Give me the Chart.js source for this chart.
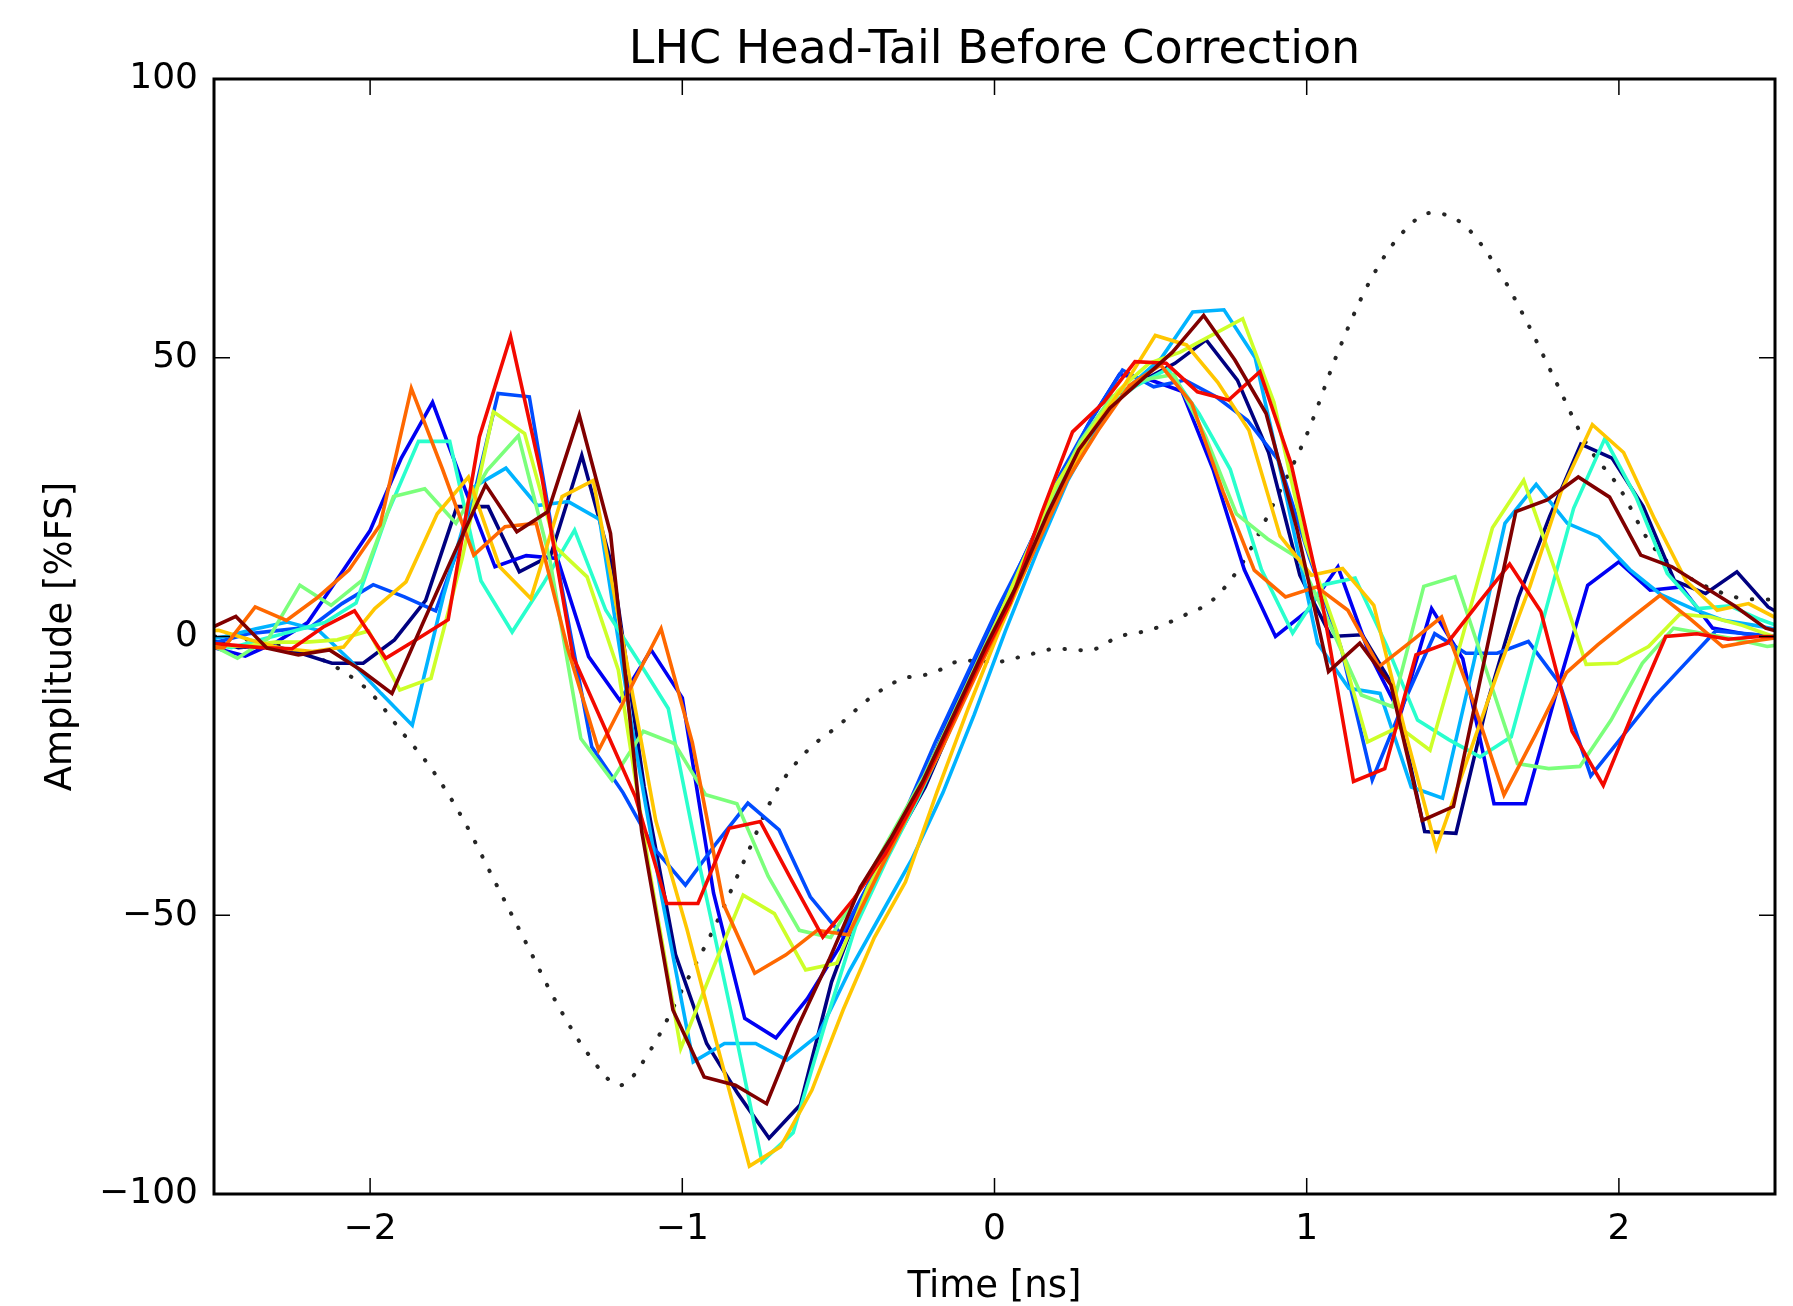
<!DOCTYPE html>
<html>
<head>
<meta charset="utf-8">
<title>LHC Head-Tail Before Correction</title>
<script src="https://cdn.jsdelivr.net/npm/chart.js@4.4.1/dist/chart.umd.min.js"></script>
<style>
  html, body { margin: 0; padding: 0; background: #fff; }
  canvas { display: block; }
</style>
</head>
<body>
<canvas id="headTail" width="1793" height="1306"></canvas>
<script>
// sample grid in ns, 0.1 ns spacing; every trace sits on it with its own trigger shift
const TIME = [-2.6, -2.5, -2.4, -2.3, -2.2, -2.1, -2.0, -1.9, -1.8, -1.7,
              -1.6, -1.5, -1.4, -1.3, -1.2, -1.1, -1.0, -0.9, -0.8, -0.7,
              -0.6, -0.5, -0.4, -0.3, -0.2, -0.1, 0.0, 0.1, 0.2, 0.3,
              0.4, 0.5, 0.6, 0.7, 0.8, 0.9, 1.0, 1.1, 1.2, 1.3,
              1.4, 1.5, 1.6, 1.7, 1.8, 1.9, 2.0, 2.1, 2.2, 2.3,
              2.4, 2.5];

// per-turn time shift (ns)
const SHIFT = [0.078, 0.0, 0.01, 0.035, 0.055, 0.075, -0.005, 0.015, 0.032, 0.05, 0.07];

// delta signal per turn, %FS
const turn1 = [-0.5, -2, -1.5, -3, -4.8, -4.8, -0.6, 6.5, 23.3, 23.3, 11.6, 14.5, 32.5, 12, -27, -57, -73, -82, -90, -84,
               -62, -47, -37, -27, -14, -2, 10, 23.5, 35, 43, 46, 49, 53.2, 46, 33, 11, 0, 0.3, -9, -35,
               -35.3, -12, 7, 21.5, 34.5, 32, 23.3, 10, 7.7, 11.6, 5.3, 2];
const turn2 = [-1, -2, -3.5, -1, 2.5, 10.7, 19, 32, 42, 27, 12.5, 14.5, 14, -3.6, -11.5, -2.4, -11, -46, -68.5, -72,
               -65, -56, -44, -34, -22, -9, 3, 15, 27, 38, 47, 46, 44, 30, 12, 0, 4.5, 12.5, -3, -14,
               5, -4, -30, -30, -10, 9.2, 13.4, 8.3, 8.9, 1.5, 0.5, 0];
const turn3 = [-1, -1, 0.5, 1.1, 1.7, 5.9, 9.3, 7.1, 4.6, 20, 43.6, 43, 10, -19.8, -28, -38, -44.6, -37, -29.9, -34.7,
               -46.7, -53.5, -43, -32, -19, -7, 5, 16, 29, 39, 47.8, 44.8, 46, 43, 38.8, 31.6, 14, -2, -25.7, -12,
               0.5, -3, -3, -0.9, -8.4, -25, -18, -11, -5, 1, 0.5, 0];
const turn4 = [-1, 0, 1.4, 2.6, 1.1, -4.2, -10.2, -15.9, 7.3, 26.9, 30.2, 23.5, 24.2, 21, -15, -47, -76.3, -73, -73, -76,
               -71.5, -60, -50, -40, -28, -14, 1, 15, 28, 38, 45, 50, 58.2, 58.6, 50, 25, -1.2, -9.3, -10.2, -27,
               -29, -4.7, 20.3, 27.3, 20.3, 17.9, 12, 7.5, 5, 2.9, 2, 1];
const turn5 = [-1, -2, -0.5, 1, 2.5, 6, 22, 35, 35, 10, 0.8, 9.5, 19.1, 4.7, -4, -12.9, -41, -67, -94.2, -89,
               -70, -52, -40, -29, -17, -4, 8, 21, 32, 41, 45, 48, 40, 30, 12, 0.6, 9.3, 10.5, -1.5, -15,
               -18.5, -21.6, -18, 2.5, 23, 35.5, 25, 11.3, 5, 5.5, 3, 1];
const turn6 = [-1, -3.9, -0.3, 9.2, 5.6, 10.1, 25.1, 26.5, 20.3, 29.8, 36, 14, -18.3, -25.8, -17, -19.2, -28.4, -30, -43, -52.7,
               -54, -45, -35, -25, -13, -1, 11, 24, 35, 43, 46, 47, 36, 22, 17.5, 14, 2, -10.5, -12.6, 9,
               10.7, -6, -22.8, -23.7, -23.3, -15, -4.8, 1.5, 0.5, -0.5, -1.8, -1];
const turn7 = [-1, -1.5, -1.8, -1, -1, -0.6, 1, -9.6, -7.5, 14, 40.3, 36.4, 16, 10.7, -6, -42, -73.9, -60, -46.4, -49.7,
               -59.8, -58.6, -45, -35, -24, -12, 1, 14, 27, 36, 44, 49, 51, 54, 57, 42, 17, 1, -18.9, -16.2,
               -20.4, -0.8, 19.5, 28, 12, -5, -4.8, -1.8, 4, 3.5, 2, 0];
const turn8 = [1, 1.1, -0.6, -2.1, -2.7, -1.9, 5, 9.8, 22, 28.6, 12.5, 6.8, 25.1, 28, -2.5, -33, -52.5, -74, -95, -91.5,
               -81.4, -67, -54, -44, -28, -13, 1, 14, 27, 37, 45, 54, 52.3, 45.6, 37, 18, 11, 12.2, 5.6, -17,
               -38, -22, -6, 9, 26, 38, 33, 21, 10, 4.7, 5.9, 3];
const turn9 = [-2, -2, 5.3, 2.9, 7, 11.9, 20, 44.5, 30, 14.6, 19.7, 20.3, -2, -20.4, -9.5, 1.4, -19, -48, -60.4, -57.1,
               -52.7, -53.5, -42, -31, -20, -8, 4, 16, 28, 37, 45, 48.7, 41.8, 26, 11.9, 7.1, 8.9, 4.7, -5.4, -1,
               3.5, -11.5, -28.4, -17.7, -6.5, -1.5, 3, 7.4, 3, -1.8, -0.8, 0];
const turn10 = [-1, -1.5, -2, -2.2, 1.7, 4.6, -3.9, -0.5, 3, 35.8, 53.8, 28.6, -3.6, -16.2, -28.8, -47.9, -47.9, -34.4, -33.2, -43.7,
                -53.9, -47, -39, -29, -17, -5, 6, 22, 36.7, 42, 49.3, 49, 43.9, 42.4, 47.5, 31, 6, -26, -23.7, -3.3,
                -1.2, 6, 13, 4.5, -17, -26.7, -13, 0, 0.5, -0.5, 0, 0];
const turn11 = [1, 3.6, -2.1, -3.3, -2.4, -6, -10.2, 2.5, 15, 27.2, 18.8, 22.4, 39.7, 18.5, -35, -67, -79, -80.5, -83.8, -70,
                -58, -45, -36, -26, -14, -2, 9, 22, 33.5, 41, 46, 51, 57.6, 49.6, 40, 19, -6.3, -1.2, -8.7, -33,
                -30.5, -4, 22.4, 24.5, 28.6, 25, 14.6, 12.5, 9, 5.5, 1.5, 0];

// sum signal (dotted)
const sumSignal = [0, 0, -0.5, -1.5, -3, -5.8, -10, -17, -24, -33, -44, -55, -66, -75, -80.5, -74, -63.3, -52.5, -40, -27.8,
                   -20.5, -16, -11.1, -7.7, -6.6, -4.3, -4.6, -3.4, -2.2, -2.5, 0, 1.2, 3.6, 6.6, 13.7, 24.5, 36.2, 51, 63.5, 72,
                   76, 74, 67, 57, 45.5, 34.2, 26.8, 16.8, 11.5, 8.5, 6.8, 6.6];

const X_TICKS = [-2, -1, 0, 1, 2];
const Y_TICKS = [-100, -50, 0, 50, 100];

// jet colormap sampled at 11 steps
const JET = ['#000080', '#0000f3', '#004cff', '#00b3ff', '#29ffcd', '#7bff7b',
             '#cdff29', '#ffc600', '#ff6800', '#f30900', '#800000'];

const TITLE = 'LHC Head-Tail Before Correction';

const turns = [turn1, turn2, turn3, turn4, turn5, turn6, turn7, turn8, turn9, turn10, turn11];

const datasets = turns.map((vals, i) => ({
  data: vals.map((v, k) => ({ x: TIME[k] + SHIFT[i], y: v })),
  borderColor: JET[i],
  borderWidth: 3.6,
  pointRadius: 0,
  tension: 0,
  order: turns.length - i
}));

datasets.push({
  data: sumSignal.map((v, k) => ({ x: TIME[k], y: v })),
  borderColor: '#262626',
  borderWidth: 4,
  borderDash: [0.5, 15.5],
  borderCapStyle: 'round',
  pointRadius: 0,
  cubicInterpolationMode: 'monotone',
  order: 99
});

function fmtTick(v) {
  return v < 0 ? '\u2212' + Math.abs(v) : String(v);
}

// box around the axes, inward tick marks on all four sides, title centred over the axes
const framePlugin = {
  id: 'frame',
  afterDatasetsDraw(chart) {
    const { ctx, chartArea: a, scales } = chart;
    const len = 16;
    ctx.save();
    ctx.strokeStyle = '#000';
    ctx.lineWidth = 1.5;
    ctx.beginPath();
    X_TICKS.forEach(t => {
      const px = scales.x.getPixelForValue(t);
      ctx.moveTo(px, a.bottom); ctx.lineTo(px, a.bottom - len);
      ctx.moveTo(px, a.top); ctx.lineTo(px, a.top + len);
    });
    Y_TICKS.forEach(t => {
      const py = scales.y.getPixelForValue(t);
      ctx.moveTo(a.left, py); ctx.lineTo(a.left + len, py);
      ctx.moveTo(a.right, py); ctx.lineTo(a.right - len, py);
    });
    ctx.stroke();
    ctx.lineWidth = 3;
    ctx.strokeRect(a.left, a.top, a.right - a.left, a.bottom - a.top);

    ctx.fillStyle = '#000';
    ctx.font = "46px 'DejaVu Sans', sans-serif";
    ctx.textAlign = 'center';
    ctx.textBaseline = 'alphabetic';
    ctx.fillText(TITLE, (a.left + a.right) / 2, 63);
    ctx.restore();
  }
};

Chart.defaults.font.family = "'DejaVu Sans', sans-serif";
Chart.defaults.color = '#000';

new Chart(document.getElementById('headTail'), {
  type: 'line',
  data: { datasets },
  options: {
    responsive: false,
    devicePixelRatio: 1,
    animation: false,
    parsing: false,
    layout: { padding: { top: 79, right: 18, bottom: 0, left: 0 } },
    plugins: {
      legend: { display: false },
      tooltip: { enabled: false },
      title: { display: false }
    },
    scales: {
      x: {
        type: 'linear',
        min: -2.5,
        max: 2.5,
        grid: { display: false, drawTicks: false },
        border: { display: false },
        afterBuildTicks: s => { s.ticks = X_TICKS.map(v => ({ value: v })); },
        afterFit: s => { s.height = 112; },
        ticks: { font: { size: 36 }, padding: 14, maxRotation: 0, callback: fmtTick },
        title: { display: true, text: 'Time [ns]', font: { size: 37, lineHeight: 1 }, padding: { top: 0, bottom: 0 } }
      },
      y: {
        type: 'linear',
        min: -100,
        max: 100,
        grid: { display: false, drawTicks: false },
        border: { display: false },
        afterBuildTicks: s => { s.ticks = Y_TICKS.map(v => ({ value: v })); },
        afterFit: s => { s.width = 214; },
        ticks: { font: { size: 36 }, padding: 16, callback: fmtTick },
        title: { display: true, text: 'Amplitude [%FS]', font: { size: 37 }, padding: { top: 39.5, bottom: 0 } }
      }
    }
  },
  plugins: [framePlugin]
});
</script>
</body>
</html>
